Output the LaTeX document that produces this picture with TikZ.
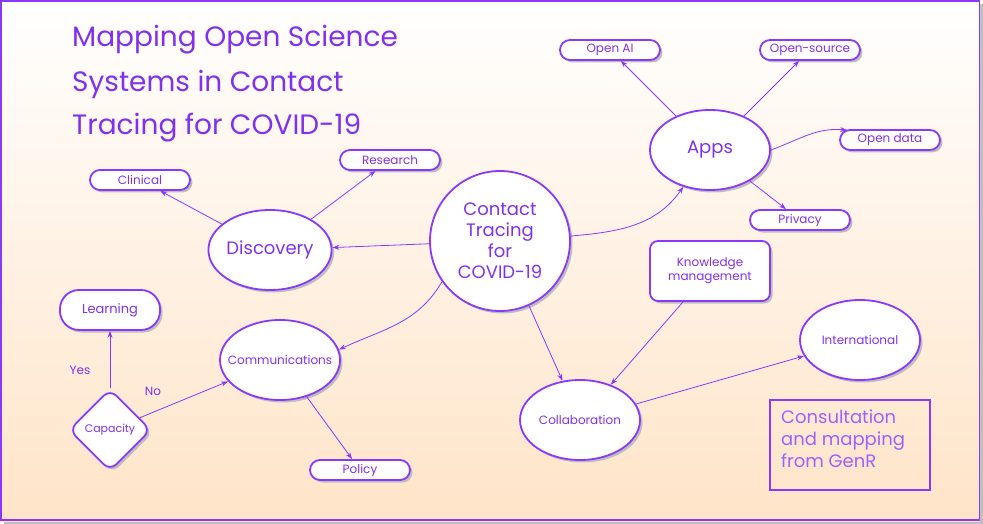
\documentclass[tikz,border=0pt]{standalone}
\usepackage{fontspec}
\setmainfont{Poppins}
\usetikzlibrary{shapes.geometric,shadows,arrows.meta,positioning}
\definecolor{pur}{RGB}{138,56,250}
\definecolor{purtext}{RGB}{128,48,240}
\definecolor{purlight}{RGB}{160,96,250}
\definecolor{peach}{RGB}{255,228,200}
\definecolor{shad}{RGB}{190,190,190}
\tikzset{
  base/.style={draw=pur, line width=1.8pt, fill=white, text=purtext, align=center,
    drop shadow={shadow xshift=2.5pt, shadow yshift=-2.5pt, fill=shad, opacity=1}},
  pill/.style={base, rectangle, rounded corners=10pt, minimum width=100pt, minimum height=20pt, inner sep=0pt, font=\fontsize{12}{14}\selectfont},
  oval/.style={base, ellipse, minimum width=120pt, minimum height=80pt, inner sep=0pt},
  intext/.style={text=purtext, align=center, inner sep=0pt},
  conn/.style={draw=pur, line width=0.8pt, -{Stealth[length=7pt,width=5pt]}},
  lbl/.style={text=purtext, font=\fontsize{12}{14}\selectfont},
}
\begin{document}
\begin{tikzpicture}[x=1pt,y=-1pt]
\useasboundingbox (0,0) rectangle (983,524);
\fill[shad] (4,4) rectangle (983,524);
\shade[top color=white, bottom color=peach] (0,0) rectangle (980,521);
\draw[pur, line width=1.6pt] (1,1) rectangle (979.5,520);
% title
\node[anchor=west, text=purtext, font=\fontsize{28}{32}\selectfont, inner sep=0pt] (t1) at (72,40) {Mapping Open Science};
\node[anchor=west, text=purtext, font=\fontsize{28}{32}\selectfont, inner sep=0pt] (t2) at (72,84) {Systems in Contact};
\node[anchor=west, text=purtext, font=\fontsize{28}{32}\selectfont, inner sep=0pt] (t3) at (72,128) {Tracing for COVID-19};
% nodes
\node[base, circle, minimum size=140pt, inner sep=0pt, font=\fontsize{18}{21}\selectfont] (ct) at (500,241) {Contact\\Tracing\\for\\COVID-19};
\node[oval, font=\fontsize{18}{21}\selectfont] (apps) at (710,150) {Apps};
\node[pill] (oai) at (610,50) {Open AI};
\node[pill] (os) at (810,50) {Open-source};
\node[pill] (od) at (890,140) {Open data};
\node[pill] (priv) at (800,220) {Privacy};
\node[oval, font=\fontsize{18}{21}\selectfont] (disc) at (270,250) {Discovery};
\node[pill] (clin) at (140,180) {Clinical};
\node[pill] (res) at (390,160) {Research};
\node[pill, rounded corners=19pt, minimum height=40pt, font=\fontsize{13}{15}\selectfont] (learn) at (110,310) {Learning};
\node[base, diamond, rounded corners=9pt, minimum width=82pt, minimum height=82pt, inner sep=0pt,
  label={[intext, font=\fontsize{11}{13}\selectfont]center:Capacity}] (cap) at (110,430) {};
\node[oval, label={[intext, font=\fontsize{12}{14}\selectfont]center:Communications}] (comm) at (280,360) {};
\node[pill] (pol) at (360,470) {Policy};
\node[base, rectangle, rounded corners=8pt, minimum width=120pt, minimum height=60pt, inner sep=0pt, font=\fontsize{12}{14}\selectfont] (km) at (710,271) {Knowledge\\management};
\node[oval, font=\fontsize{12}{14}\selectfont] (intl) at (860,340) {International};
\node[oval, font=\fontsize{12}{14}\selectfont] (coll) at (580,420) {Collaboration};
\node[draw=pur, line width=1.6pt, rectangle, minimum width=160pt, minimum height=90pt, inner sep=0pt] (cons) at (850,445) {};
\node[anchor=north west, text=purlight, align=left, font=\fontsize{18}{22}\selectfont, inner sep=0pt] (constext) at (781,410) {Consultation\\and mapping\\from GenR};
% connectors
\draw[conn] (ct) -- (disc);
\draw[conn] (ct.4) to[out=5, in=-125] (apps.234);
\draw[conn] (ct.215) to[out=240, in=25] (comm.10);
\draw[conn] (ct) -- (coll);
\draw[conn] (apps) -- (oai);
\draw[conn] (apps) -- (os);
\draw[conn] (apps.east) to[out=20, in=175] ([xshift=8pt,yshift=-1pt]od.north west);
\draw[conn] (apps) -- (priv);
\draw[conn] (disc) -- (clin);
\draw[conn] (disc) -- (res);
\draw[conn] (cap) -- (learn);
\draw[conn] (cap) -- (comm);
\draw[conn] (comm) -- (pol);
\draw[conn] (km) -- (coll);
\draw[conn] (coll) -- (intl);
\node[lbl] (yes) at (80,370) {Yes};
\node[lbl] (no) at (153,391) {No};
\end{tikzpicture}
\end{document}
